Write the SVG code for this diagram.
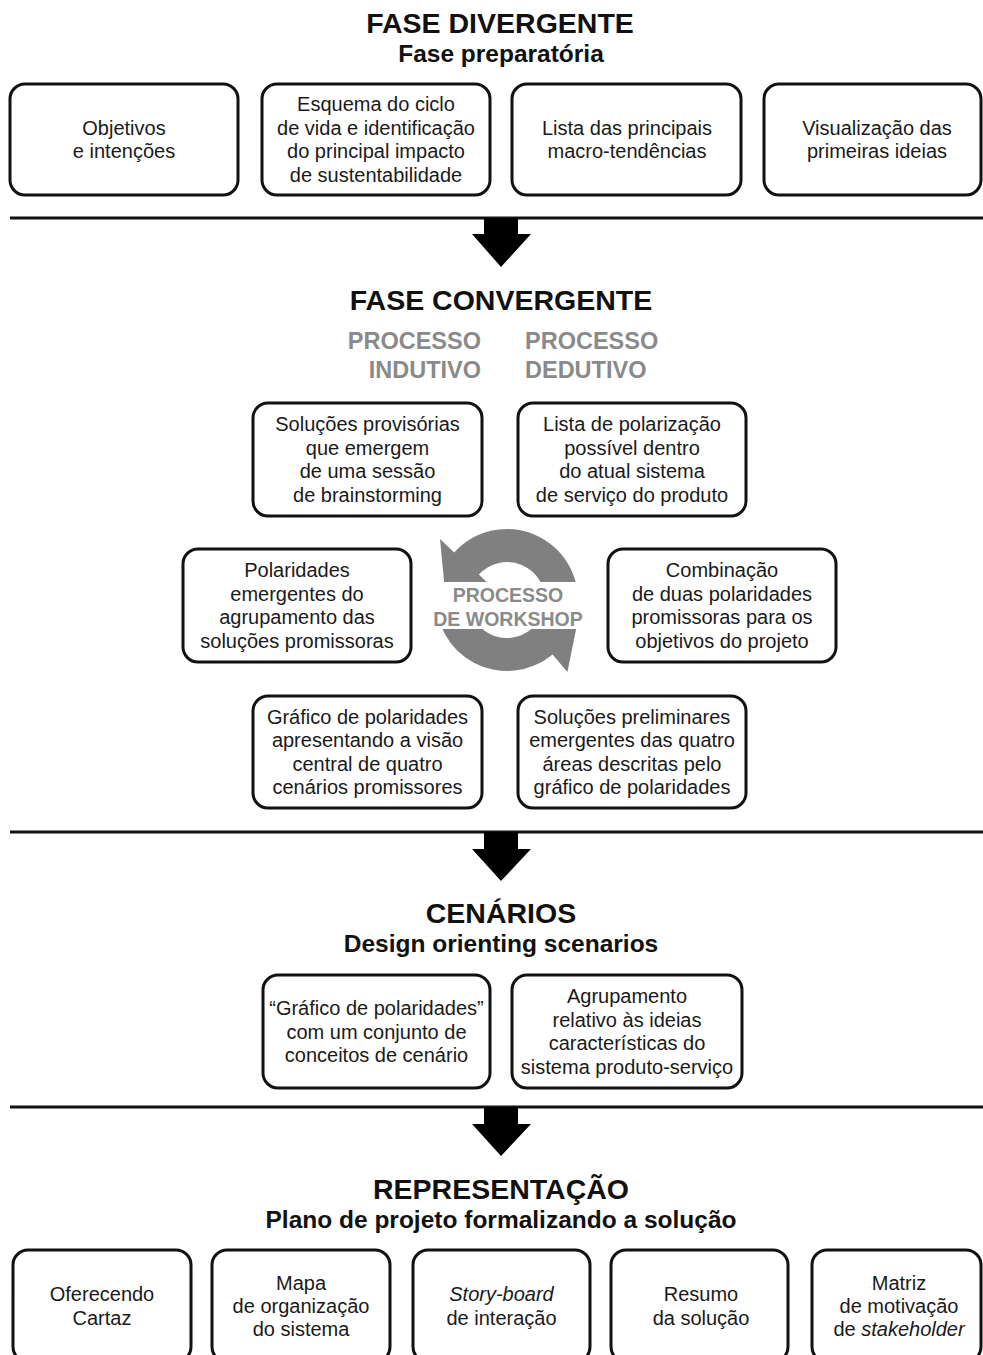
<svg xmlns="http://www.w3.org/2000/svg" width="983" height="1355" viewBox="0 0 983 1355">
  <style>
    .box { fill: #ffffff; stroke: #111111; stroke-width: 3; }
    .txt { font-family: "Liberation Sans", Arial, sans-serif; font-size: 20px; fill: #1a1a1a; text-anchor: middle; }
    .title { font-family: "Liberation Sans", Arial, sans-serif; font-size: 28.5px; font-weight: bold; fill: #111111; text-anchor: middle; }
    .sub { font-family: "Liberation Sans", Arial, sans-serif; font-size: 24.5px; font-weight: bold; fill: #111111; text-anchor: middle; }
    .proc { font-family: "Liberation Sans", Arial, sans-serif; font-size: 23.5px; font-weight: bold; fill: #8a8a8a; }
    .ring { fill: #808080; stroke: none; }
    .ringtxt { font-family: "Liberation Sans", Arial, sans-serif; font-size: 19.5px; font-weight: bold; fill: #8a8a8a; text-anchor: middle; }
    .sep { stroke: #111111; stroke-width: 3; }
    .down { fill: #000000; }
    .it { font-style: italic; }
  </style>

  <defs>
    <!-- the cycle arrows leave a clear horizontal band for the label -->
    <clipPath id="ring-gap">
      <rect x="400" y="500" width="200" height="82"/>
      <rect x="400" y="629" width="200" height="70"/>
    </clipPath>
  </defs>

  <!-- Section headings -->
  <g id="headings">
    <text class="title" x="500" y="33">FASE DIVERGENTE</text>
    <text class="sub" x="501" y="62">Fase preparatória</text>
    <text class="title" x="501" y="310">FASE CONVERGENTE</text>
    <text class="proc" x="481" y="349" text-anchor="end">PROCESSO</text>
    <text class="proc" x="481" y="378" text-anchor="end">INDUTIVO</text>
    <text class="proc" x="525" y="349">PROCESSO</text>
    <text class="proc" x="525" y="378">DEDUTIVO</text>
    <text class="title" x="501" y="923">CENÁRIOS</text>
    <text class="sub" x="501" y="952">Design orienting scenarios</text>
    <text class="title" x="501" y="1199">REPRESENTAÇÃO</text>
    <text class="sub" x="501" y="1228">Plano de projeto formalizando a solução</text>
  </g>

  <!-- Divergent phase -->
  <g id="objetivos">
    <rect class="box" x="10" y="84" width="228" height="111" rx="15"/>
    <text class="txt" x="124" y="135">Objetivos<tspan x="124" dy="23.4">e intenções</tspan></text>
  </g>
  <g id="esquema-ciclo">
    <rect class="box" x="262" y="84" width="228" height="111" rx="15"/>
    <text class="txt" x="376" y="111.4">Esquema do ciclo<tspan x="376" dy="23.4">de vida e identificação</tspan><tspan x="376" dy="23.4">do principal impacto</tspan><tspan x="376" dy="23.4">de sustentabilidade</tspan></text>
  </g>
  <g id="macro-tendencias">
    <rect class="box" x="512" y="84" width="229" height="111" rx="15"/>
    <text class="txt" x="627" y="135">Lista das principais<tspan x="627" dy="23.4">macro-tendências</tspan></text>
  </g>
  <g id="primeiras-ideias">
    <rect class="box" x="764" y="84" width="217" height="111" rx="15"/>
    <text class="txt" x="877" y="135">Visualização das<tspan x="877" dy="23.4">primeiras ideias</tspan></text>
  </g>

  <!-- Convergent phase -->
  <g id="solucoes-provisorias">
    <rect class="box" x="253" y="403" width="229" height="113" rx="15"/>
    <text class="txt" x="367.5" y="431.4">Soluções provisórias<tspan x="367.5" dy="23.4">que emergem</tspan><tspan x="367.5" dy="23.4">de uma sessão</tspan><tspan x="367.5" dy="23.4">de brainstorming</tspan></text>
  </g>
  <g id="lista-polarizacao">
    <rect class="box" x="518" y="403" width="228" height="113" rx="15"/>
    <text class="txt" x="632" y="431.4">Lista de polarização<tspan x="632" dy="23.4">possível dentro</tspan><tspan x="632" dy="23.4">do atual sistema</tspan><tspan x="632" dy="23.4">de serviço do produto</tspan></text>
  </g>
  <g id="polaridades-emergentes">
    <rect class="box" x="183" y="549" width="228" height="113" rx="15"/>
    <text class="txt" x="297" y="577.4">Polaridades<tspan x="297" dy="23.4">emergentes do</tspan><tspan x="297" dy="23.4">agrupamento das</tspan><tspan x="297" dy="23.4">soluções promissoras</tspan></text>
  </g>
  <g id="combinacao-polaridades">
    <rect class="box" x="608" y="549" width="228" height="113" rx="15"/>
    <text class="txt" x="722" y="577.4">Combinação<tspan x="722" dy="23.4">de duas polaridades</tspan><tspan x="722" dy="23.4">promissoras para os</tspan><tspan x="722" dy="23.4">objetivos do projeto</tspan></text>
  </g>
  <g id="grafico-polaridades">
    <rect class="box" x="253" y="696" width="229" height="112" rx="15"/>
    <text class="txt" x="367.5" y="723.9">Gráfico de polaridades<tspan x="367.5" dy="23.4">apresentando a visão</tspan><tspan x="367.5" dy="23.4">central de quatro</tspan><tspan x="367.5" dy="23.4">cenários promissores</tspan></text>
  </g>
  <g id="solucoes-preliminares">
    <rect class="box" x="518" y="696" width="228" height="112" rx="15"/>
    <text class="txt" x="632" y="723.9">Soluções preliminares<tspan x="632" dy="23.4">emergentes das quatro</tspan><tspan x="632" dy="23.4">áreas descritas pelo</tspan><tspan x="632" dy="23.4">gráfico de polaridades</tspan></text>
  </g>

  <!-- Workshop cycle: two curved arrows around the label -->
  <g id="processo-workshop">
    <g clip-path="url(#ring-gap)">
      <path class="ring" d="M 577.7 606.2 A 71 71 0 0 0 454.2 552.5 L 440 539 L 446 602 L 495 590 L 478.8 574.6 A 38 38 0 0 1 544.9 603.3 Z"/>
      <path class="ring" d="M 436.3 593.8 A 71 71 0 0 0 552.6 654.4 L 567.4 672 L 580 610 L 517.3 612.3 L 531.4 629.1 A 38 38 0 0 1 469.1 596.7 Z"/>
    </g>
    <text class="ringtxt" x="508" y="602">PROCESSO</text>
    <text class="ringtxt" x="508" y="626">DE WORKSHOP</text>
  </g>

  <!-- Scenarios -->
  <g id="grafico-conceitos">
    <rect class="box" x="263" y="975" width="227" height="113" rx="15"/>
    <text class="txt" x="376.5" y="1015.1">“Gráfico de polaridades”<tspan x="376.5" dy="23.4">com um conjunto de</tspan><tspan x="376.5" dy="23.4">conceitos de cenário</tspan></text>
  </g>
  <g id="agrupamento-ideias">
    <rect class="box" x="512" y="975" width="230" height="113" rx="15"/>
    <text class="txt" x="627" y="1003.4">Agrupamento<tspan x="627" dy="23.4">relativo às ideias</tspan><tspan x="627" dy="23.4">características do</tspan><tspan x="627" dy="23.4">sistema produto-serviço</tspan></text>
  </g>

  <!-- Representation -->
  <g id="oferecendo-cartaz">
    <rect class="box" x="13" y="1250" width="178" height="112" rx="15"/>
    <text class="txt" x="102" y="1301.3">Oferecendo<tspan x="102" dy="23.4">Cartaz</tspan></text>
  </g>
  <g id="mapa-organizacao">
    <rect class="box" x="212" y="1250" width="178" height="112" rx="15"/>
    <text class="txt" x="301" y="1289.6">Mapa<tspan x="301" dy="23.4">de organização</tspan><tspan x="301" dy="23.4">do sistema</tspan></text>
  </g>
  <g id="story-board">
    <rect class="box" x="413" y="1250" width="177" height="112" rx="15"/>
    <text class="txt" x="501.5" y="1301.3"><tspan class="it">Story-board</tspan><tspan x="501.5" dy="23.4">de interação</tspan></text>
  </g>
  <g id="resumo-solucao">
    <rect class="box" x="611" y="1250" width="177" height="112" rx="15"/>
    <text class="txt" x="701" y="1301.3">Resumo<tspan x="701" dy="23.4">da solução</tspan></text>
  </g>
  <g id="matriz-motivacao">
    <rect class="box" x="812" y="1250" width="169" height="112" rx="15"/>
    <text class="txt" x="899" y="1289.6">Matriz<tspan x="899" dy="23.4">de motivação</tspan><tspan x="899" dy="23.4">de <tspan class="it">stakeholder</tspan></tspan></text>
  </g>

  <!-- Phase separators and downward arrows -->
  <g id="connectors">
    <line class="sep" x1="10" y1="218" x2="983" y2="218"/>
    <polygon class="down" points="484,218 518,218 518,234 531,234 501,267 472,234 484,234"/>
    <line class="sep" x1="10" y1="832" x2="983" y2="832"/>
    <polygon class="down" points="484,832 518,832 518,849 531,849 501,881 472,849 484,849"/>
    <line class="sep" x1="10" y1="1107" x2="983" y2="1107"/>
    <polygon class="down" points="484,1107 518,1107 518,1124 531,1124 501,1156 472,1124 484,1124"/>
  </g>
</svg>
